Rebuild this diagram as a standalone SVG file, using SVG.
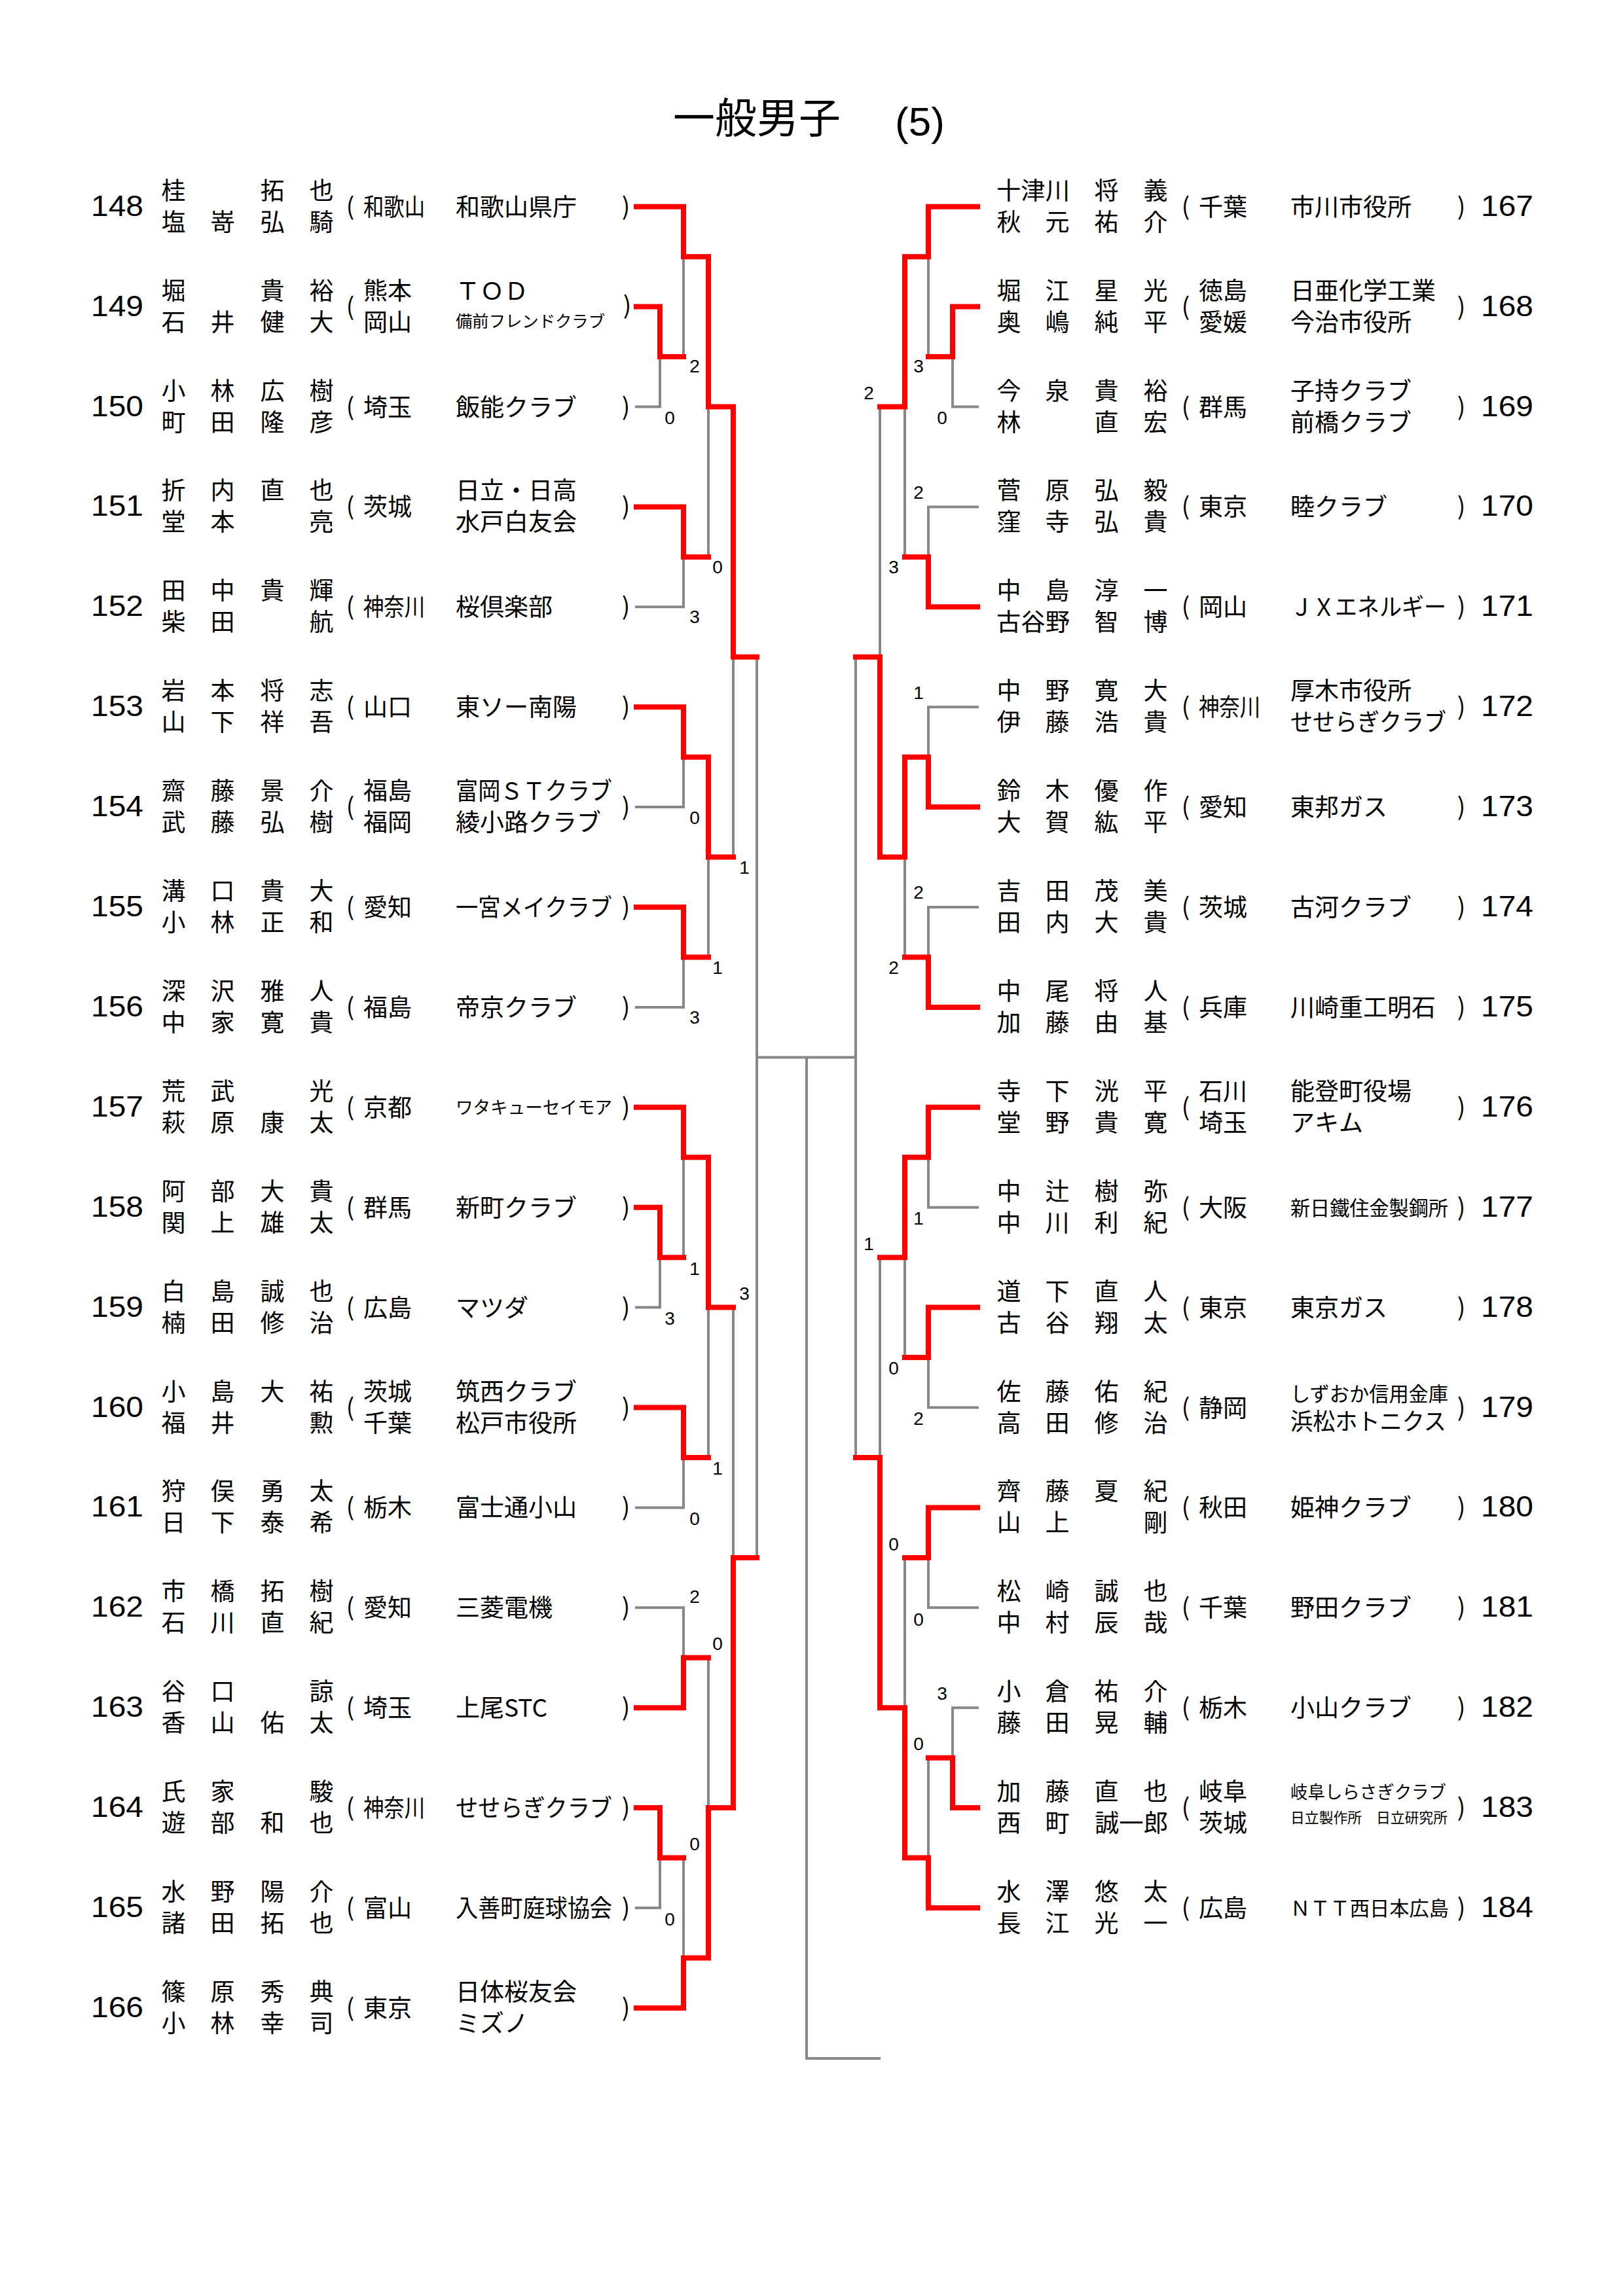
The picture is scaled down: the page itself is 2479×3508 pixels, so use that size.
<svg xmlns="http://www.w3.org/2000/svg" width="2479" height="3508" viewBox="0 0 2479 3508">
<style>
text{font-family:"Noto Sans CJK JP","Noto Sans",sans-serif;fill:#000}
.nm{font-size:37px;text-anchor:middle}
.tx{font-size:37px}
.pr{font-size:37px;text-anchor:middle}
.num{font-family:"Liberation Sans",Arial,sans-serif;font-size:44px}
.sc{font-family:"Liberation Sans",Arial,sans-serif;font-size:28px;text-anchor:middle}
.s25{font-size:25px}
.s27{font-size:27px}
.s31{font-size:31px}
.s22{font-size:22px}
.s36{font-size:36px}
.g{fill:none;stroke:#878787;stroke-width:4;stroke-linecap:square}
.r{fill:none;stroke:#ff0000;stroke-width:8;stroke-linecap:square;stroke-linejoin:miter}
.title{font-size:64px}
.title2{font-family:"Liberation Sans",Arial,sans-serif;font-size:62px}
</style>
<rect width="2479" height="3508" fill="#fff"/>
<g id="title">
<text class="title" x="1028" y="203">一般男子</text>
<text class="title2" x="1367" y="207">(5)</text>
</g>
<g id="connectors">
<path class="g" d="M972 621.5H1008V545.1M1044 392.2V545.1M972 927.3H1044V850.9M1082 621.5V850.9M972 1233.1H1044V1156.7M972 1538.9H1044V1462.5M1082 1309.6V1462.5M1120 1003.8V1309.6M972 1997.6H1008V1921.2M1044 1768.3V1921.2M972 2303.4H1044V2227M1082 1997.6V2227M972 2456.3H1044V2532.8M972 2915H1008V2838.6M1044 2838.6V2991.5M1082 2532.8V2762.1M1120 1997.6V2379.9M1156 1003.8V2379.9"/>
<path class="g" d="M1156 1615.4H1307M1232 1615.4V3145H1343"/>
<path class="g" d="M1493 621.5H1455V545.1M1418 392.2V545.1M1493 774.4H1418V850.9M1382 621.5V850.9M1344 621.5V1003.8M1493 1080.2H1418V1156.7M1493 1386H1418V1462.5M1382 1309.6V1462.5M1493 1844.7H1418V1768.3M1493 2150.5H1418V2074.1M1382 1921.2V2074.1M1344 1921.2V2227M1493 2456.3H1418V2379.9M1493 2609.2H1455V2685.7M1418 2685.7V2838.6M1382 2379.9V2609.2M1307 1003.8V2227"/>
<path class="r" d="M972 315.7H1044V392.2H1082V621.5H1120V1003.8H1156"/>
<path class="r" d="M972 468.6H1008V545.1H1044"/>
<path class="r" d="M972 774.4H1044V850.9H1082"/>
<path class="r" d="M972 1080.2H1044V1156.7H1082V1309.6H1120"/>
<path class="r" d="M972 1386H1044V1462.5H1082"/>
<path class="r" d="M972 1691.8H1044V1768.3H1082V1997.6H1120"/>
<path class="r" d="M972 1844.7H1008V1921.2H1044"/>
<path class="r" d="M972 2150.5H1044V2227H1082"/>
<path class="r" d="M972 2609.2H1044V2532.8H1082"/>
<path class="r" d="M972 2762.1H1008V2838.6H1044"/>
<path class="r" d="M972 3067.9H1044V2991.5H1082V2762.1H1120V2379.9H1156"/>
<path class="r" d="M1493 315.7H1418V392.2H1382V621.5H1344"/>
<path class="r" d="M1493 468.6H1455V545.1H1418"/>
<path class="r" d="M1493 927.3H1418V850.9H1382"/>
<path class="r" d="M1493 1233.1H1418V1156.7H1382V1309.6H1344V1003.8H1307"/>
<path class="r" d="M1493 1538.9H1418V1462.5H1382"/>
<path class="r" d="M1493 1691.8H1418V1768.3H1382V1921.2H1344"/>
<path class="r" d="M1493 1997.6H1418V2074.1H1382"/>
<path class="r" d="M1493 2303.4H1418V2379.9H1382"/>
<path class="r" d="M1493 2762.1H1455V2685.7H1418"/>
<path class="r" d="M1493 2915H1418V2838.6H1382V2609.2H1344V2227H1307"/>
</g>
<g id="scores">
<text class="sc" x="1061" y="569">2</text>
<text class="sc" x="1023" y="648">0</text>
<text class="sc" x="1096" y="876">0</text>
<text class="sc" x="1061" y="952">3</text>
<text class="sc" x="1061" y="1259">0</text>
<text class="sc" x="1137" y="1335">1</text>
<text class="sc" x="1096" y="1488">1</text>
<text class="sc" x="1061" y="1564">3</text>
<text class="sc" x="1061" y="1948">1</text>
<text class="sc" x="1137" y="1986">3</text>
<text class="sc" x="1023" y="2024">3</text>
<text class="sc" x="1096" y="2253">1</text>
<text class="sc" x="1061" y="2330">0</text>
<text class="sc" x="1061" y="2449">2</text>
<text class="sc" x="1096" y="2521">0</text>
<text class="sc" x="1061" y="2827">0</text>
<text class="sc" x="1023" y="2942">0</text>
<text class="sc" x="1327" y="610">2</text>
<text class="sc" x="1403" y="569">3</text>
<text class="sc" x="1439" y="648">0</text>
<text class="sc" x="1403" y="762">2</text>
<text class="sc" x="1365" y="876">3</text>
<text class="sc" x="1403" y="1068">1</text>
<text class="sc" x="1403" y="1373">2</text>
<text class="sc" x="1365" y="1488">2</text>
<text class="sc" x="1403" y="1871">1</text>
<text class="sc" x="1327" y="1910">1</text>
<text class="sc" x="1365" y="2100">0</text>
<text class="sc" x="1403" y="2177">2</text>
<text class="sc" x="1365" y="2369">0</text>
<text class="sc" x="1403" y="2484">0</text>
<text class="sc" x="1439" y="2597">3</text>
<text class="sc" x="1403" y="2674">0</text>
</g>
<g id="e148" transform="translate(0,315.7)"><text class="num" x="139" y="14" textLength="80" lengthAdjust="spacingAndGlyphs">148</text><text class="nm" x="265 416 491" y="-11">桂拓也</text><text class="nm" x="265 340 416 491" y="37">塩嵜弘騎</text><text class="pr" x="535" y="13">(</text><text class="tx" x="555" y="14" textLength="94" lengthAdjust="spacingAndGlyphs">和歌山</text><text class="tx" x="696" y="14">和歌山県庁</text><text class="pr" x="956" y="13">)</text></g>
<g id="e149" transform="translate(0,468.6)"><text class="num" x="139" y="14" textLength="80" lengthAdjust="spacingAndGlyphs">149</text><text class="nm" x="265 416 491" y="-11">堀貴裕</text><text class="nm" x="265 340 416 491" y="37">石井健大</text><text class="pr" x="535" y="13">(</text><text class="tx" x="555" y="-11">熊本</text><text class="tx" x="555" y="37">岡山</text><text class="tx" x="696" y="-11">ＴＯＤ</text><text class="tx s25" x="696" y="31" textLength="228" lengthAdjust="spacingAndGlyphs">備前フレンドクラブ</text><text class="pr" x="958" y="11">)</text></g>
<g id="e150" transform="translate(0,621.5)"><text class="num" x="139" y="14" textLength="80" lengthAdjust="spacingAndGlyphs">150</text><text class="nm" x="265 340 416 491" y="-11">小林広樹</text><text class="nm" x="265 340 416 491" y="37">町田隆彦</text><text class="pr" x="535" y="13">(</text><text class="tx" x="555" y="14">埼玉</text><text class="tx" x="696" y="14">飯能クラブ</text><text class="pr" x="956" y="13">)</text></g>
<g id="e151" transform="translate(0,774.4)"><text class="num" x="139" y="14" textLength="80" lengthAdjust="spacingAndGlyphs">151</text><text class="nm" x="265 340 416 491" y="-11">折内直也</text><text class="nm" x="265 340 491" y="37">堂本亮</text><text class="pr" x="535" y="13">(</text><text class="tx" x="555" y="14">茨城</text><text class="tx" x="696" y="-11">日立・日高</text><text class="tx" x="696" y="37">水戸白友会</text><text class="pr" x="956" y="13">)</text></g>
<g id="e152" transform="translate(0,927.3)"><text class="num" x="139" y="14" textLength="80" lengthAdjust="spacingAndGlyphs">152</text><text class="nm" x="265 340 416 491" y="-11">田中貴輝</text><text class="nm" x="265 340 491" y="37">柴田航</text><text class="pr" x="535" y="13">(</text><text class="tx" x="555" y="14" textLength="94" lengthAdjust="spacingAndGlyphs">神奈川</text><text class="tx" x="696" y="14">桜倶楽部</text><text class="pr" x="956" y="13">)</text></g>
<g id="e153" transform="translate(0,1080.2)"><text class="num" x="139" y="14" textLength="80" lengthAdjust="spacingAndGlyphs">153</text><text class="nm" x="265 340 416 491" y="-11">岩本将志</text><text class="nm" x="265 340 416 491" y="37">山下祥吾</text><text class="pr" x="535" y="13">(</text><text class="tx" x="555" y="14">山口</text><text class="tx" x="696" y="14">東ソー南陽</text><text class="pr" x="956" y="13">)</text></g>
<g id="e154" transform="translate(0,1233.1)"><text class="num" x="139" y="14" textLength="80" lengthAdjust="spacingAndGlyphs">154</text><text class="nm" x="265 340 416 491" y="-11">齋藤景介</text><text class="nm" x="265 340 416 491" y="37">武藤弘樹</text><text class="pr" x="535" y="13">(</text><text class="tx" x="555" y="-11">福島</text><text class="tx" x="555" y="37">福岡</text><text class="tx" x="696" y="-11" textLength="239" lengthAdjust="spacingAndGlyphs">富岡ＳＴクラブ</text><text class="tx" x="696" y="37">綾小路クラブ</text><text class="pr" x="956" y="13">)</text></g>
<g id="e155" transform="translate(0,1386)"><text class="num" x="139" y="14" textLength="80" lengthAdjust="spacingAndGlyphs">155</text><text class="nm" x="265 340 416 491" y="-11">溝口貴大</text><text class="nm" x="265 340 416 491" y="37">小林正和</text><text class="pr" x="535" y="13">(</text><text class="tx" x="555" y="14">愛知</text><text class="tx" x="696" y="14" textLength="239" lengthAdjust="spacingAndGlyphs">一宮メイクラブ</text><text class="pr" x="956" y="13">)</text></g>
<g id="e156" transform="translate(0,1538.9)"><text class="num" x="139" y="14" textLength="80" lengthAdjust="spacingAndGlyphs">156</text><text class="nm" x="265 340 416 491" y="-11">深沢雅人</text><text class="nm" x="265 340 416 491" y="37">中家寛貴</text><text class="pr" x="535" y="13">(</text><text class="tx" x="555" y="14">福島</text><text class="tx" x="696" y="14">帝京クラブ</text><text class="pr" x="956" y="13">)</text></g>
<g id="e157" transform="translate(0,1691.8)"><text class="num" x="139" y="14" textLength="80" lengthAdjust="spacingAndGlyphs">157</text><text class="nm" x="265 340 491" y="-11">荒武光</text><text class="nm" x="265 340 416 491" y="37">萩原康太</text><text class="pr" x="535" y="13">(</text><text class="tx" x="555" y="14">京都</text><text class="tx s27" x="696" y="10" textLength="239" lengthAdjust="spacingAndGlyphs">ワタキューセイモア</text><text class="pr" x="956" y="13">)</text></g>
<g id="e158" transform="translate(0,1844.7)"><text class="num" x="139" y="14" textLength="80" lengthAdjust="spacingAndGlyphs">158</text><text class="nm" x="265 340 416 491" y="-11">阿部大貴</text><text class="nm" x="265 340 416 491" y="37">関上雄太</text><text class="pr" x="535" y="13">(</text><text class="tx" x="555" y="14">群馬</text><text class="tx" x="696" y="14">新町クラブ</text><text class="pr" x="956" y="13">)</text></g>
<g id="e159" transform="translate(0,1997.6)"><text class="num" x="139" y="14" textLength="80" lengthAdjust="spacingAndGlyphs">159</text><text class="nm" x="265 340 416 491" y="-11">白島誠也</text><text class="nm" x="265 340 416 491" y="37">楠田修治</text><text class="pr" x="535" y="13">(</text><text class="tx" x="555" y="14">広島</text><text class="tx" x="696" y="14">マツダ</text><text class="pr" x="956" y="13">)</text></g>
<g id="e160" transform="translate(0,2150.5)"><text class="num" x="139" y="14" textLength="80" lengthAdjust="spacingAndGlyphs">160</text><text class="nm" x="265 340 416 491" y="-11">小島大祐</text><text class="nm" x="265 340 491" y="37">福井勲</text><text class="pr" x="535" y="13">(</text><text class="tx" x="555" y="-11">茨城</text><text class="tx" x="555" y="37">千葉</text><text class="tx" x="696" y="-11">筑西クラブ</text><text class="tx" x="696" y="37">松戸市役所</text><text class="pr" x="956" y="13">)</text></g>
<g id="e161" transform="translate(0,2303.4)"><text class="num" x="139" y="14" textLength="80" lengthAdjust="spacingAndGlyphs">161</text><text class="nm" x="265 340 416 491" y="-11">狩俣勇太</text><text class="nm" x="265 340 416 491" y="37">日下泰希</text><text class="pr" x="535" y="13">(</text><text class="tx" x="555" y="14">栃木</text><text class="tx" x="696" y="14">富士通小山</text><text class="pr" x="956" y="13">)</text></g>
<g id="e162" transform="translate(0,2456.3)"><text class="num" x="139" y="14" textLength="80" lengthAdjust="spacingAndGlyphs">162</text><text class="nm" x="265 340 416 491" y="-11">市橋拓樹</text><text class="nm" x="265 340 416 491" y="37">石川直紀</text><text class="pr" x="535" y="13">(</text><text class="tx" x="555" y="14">愛知</text><text class="tx" x="696" y="14">三菱電機</text><text class="pr" x="956" y="13">)</text></g>
<g id="e163" transform="translate(0,2609.2)"><text class="num" x="139" y="14" textLength="80" lengthAdjust="spacingAndGlyphs">163</text><text class="nm" x="265 340 491" y="-11">谷口諒</text><text class="nm" x="265 340 416 491" y="37">香山佑太</text><text class="pr" x="535" y="13">(</text><text class="tx" x="555" y="14">埼玉</text><text class="tx" x="696" y="14">上尾STC</text><text class="pr" x="956" y="13">)</text></g>
<g id="e164" transform="translate(0,2762.1)"><text class="num" x="139" y="14" textLength="80" lengthAdjust="spacingAndGlyphs">164</text><text class="nm" x="265 340 491" y="-11">氏家駿</text><text class="nm" x="265 340 416 491" y="37">遊部和也</text><text class="pr" x="535" y="13">(</text><text class="tx" x="555" y="14" textLength="94" lengthAdjust="spacingAndGlyphs">神奈川</text><text class="tx" x="696" y="14" textLength="239" lengthAdjust="spacingAndGlyphs">せせらぎクラブ</text><text class="pr" x="956" y="13">)</text></g>
<g id="e165" transform="translate(0,2915)"><text class="num" x="139" y="14" textLength="80" lengthAdjust="spacingAndGlyphs">165</text><text class="nm" x="265 340 416 491" y="-11">水野陽介</text><text class="nm" x="265 340 416 491" y="37">諸田拓也</text><text class="pr" x="535" y="13">(</text><text class="tx" x="555" y="14">富山</text><text class="tx" x="696" y="14" textLength="239" lengthAdjust="spacingAndGlyphs">入善町庭球協会</text><text class="pr" x="956" y="13">)</text></g>
<g id="e166" transform="translate(0,3067.9)"><text class="num" x="139" y="14" textLength="80" lengthAdjust="spacingAndGlyphs">166</text><text class="nm" x="265 340 416 491" y="-11">篠原秀典</text><text class="nm" x="265 340 416 491" y="37">小林幸司</text><text class="pr" x="535" y="13">(</text><text class="tx" x="555" y="14">東京</text><text class="tx" x="696" y="-11">日体桜友会</text><text class="tx" x="696" y="37">ミズノ</text><text class="pr" x="956" y="13">)</text></g>
<g id="e167" transform="translate(0,315.7)"><text class="tx" x="1522" y="-11" textLength="112" lengthAdjust="spacingAndGlyphs">十津川</text><text class="nm" x="1690 1765" y="-11">将義</text><text class="nm" x="1541 1615 1690 1765" y="37">秋元祐介</text><text class="pr" x="1811" y="13">(</text><text class="tx" x="1831" y="14">千葉</text><text class="tx" x="1971" y="14">市川市役所</text><text class="pr" x="2232" y="13">)</text><text class="num" x="2262" y="14" textLength="80" lengthAdjust="spacingAndGlyphs">167</text></g>
<g id="e168" transform="translate(0,468.6)"><text class="nm" x="1541 1615 1690 1765" y="-11">堀江星光</text><text class="nm" x="1541 1615 1690 1765" y="37">奥嶋純平</text><text class="pr" x="1811" y="13">(</text><text class="tx" x="1831" y="-11">徳島</text><text class="tx" x="1831" y="37">愛媛</text><text class="tx" x="1971" y="-11">日亜化学工業</text><text class="tx" x="1971" y="37">今治市役所</text><text class="pr" x="2232" y="13">)</text><text class="num" x="2262" y="14" textLength="80" lengthAdjust="spacingAndGlyphs">168</text></g>
<g id="e169" transform="translate(0,621.5)"><text class="nm" x="1541 1615 1690 1765" y="-11">今泉貴裕</text><text class="nm" x="1541 1690 1765" y="37">林直宏</text><text class="pr" x="1811" y="13">(</text><text class="tx" x="1831" y="14">群馬</text><text class="tx" x="1971" y="-11">子持クラブ</text><text class="tx" x="1971" y="37">前橋クラブ</text><text class="pr" x="2232" y="13">)</text><text class="num" x="2262" y="14" textLength="80" lengthAdjust="spacingAndGlyphs">169</text></g>
<g id="e170" transform="translate(0,774.4)"><text class="nm" x="1541 1615 1690 1765" y="-11">菅原弘毅</text><text class="nm" x="1541 1615 1690 1765" y="37">窪寺弘貴</text><text class="pr" x="1811" y="13">(</text><text class="tx" x="1831" y="14">東京</text><text class="tx" x="1971" y="14">睦クラブ</text><text class="pr" x="2232" y="13">)</text><text class="num" x="2262" y="14" textLength="80" lengthAdjust="spacingAndGlyphs">170</text></g>
<g id="e171" transform="translate(0,927.3)"><text class="nm" x="1541 1615 1690 1765" y="-11">中島淳一</text><text class="tx" x="1522" y="37" textLength="112" lengthAdjust="spacingAndGlyphs">古谷野</text><text class="nm" x="1690 1765" y="37">智博</text><text class="pr" x="1811" y="13">(</text><text class="tx" x="1831" y="14">岡山</text><text class="tx" x="1971" y="14" textLength="238" lengthAdjust="spacingAndGlyphs">ＪＸエネルギー</text><text class="pr" x="2232" y="13">)</text><text class="num" x="2262" y="14" textLength="80" lengthAdjust="spacingAndGlyphs">171</text></g>
<g id="e172" transform="translate(0,1080.2)"><text class="nm" x="1541 1615 1690 1765" y="-11">中野寛大</text><text class="nm" x="1541 1615 1690 1765" y="37">伊藤浩貴</text><text class="pr" x="1811" y="13">(</text><text class="tx" x="1831" y="14" textLength="94" lengthAdjust="spacingAndGlyphs">神奈川</text><text class="tx" x="1971" y="-11">厚木市役所</text><text class="tx" x="1971" y="37" textLength="238" lengthAdjust="spacingAndGlyphs">せせらぎクラブ</text><text class="pr" x="2232" y="13">)</text><text class="num" x="2262" y="14" textLength="80" lengthAdjust="spacingAndGlyphs">172</text></g>
<g id="e173" transform="translate(0,1233.1)"><text class="nm" x="1541 1615 1690 1765" y="-11">鈴木優作</text><text class="nm" x="1541 1615 1690 1765" y="37">大賀紘平</text><text class="pr" x="1811" y="13">(</text><text class="tx" x="1831" y="14">愛知</text><text class="tx" x="1971" y="14">東邦ガス</text><text class="pr" x="2232" y="13">)</text><text class="num" x="2262" y="14" textLength="80" lengthAdjust="spacingAndGlyphs">173</text></g>
<g id="e174" transform="translate(0,1386)"><text class="nm" x="1541 1615 1690 1765" y="-11">吉田茂美</text><text class="nm" x="1541 1615 1690 1765" y="37">田内大貴</text><text class="pr" x="1811" y="13">(</text><text class="tx" x="1831" y="14">茨城</text><text class="tx" x="1971" y="14">古河クラブ</text><text class="pr" x="2232" y="13">)</text><text class="num" x="2262" y="14" textLength="80" lengthAdjust="spacingAndGlyphs">174</text></g>
<g id="e175" transform="translate(0,1538.9)"><text class="nm" x="1541 1615 1690 1765" y="-11">中尾将人</text><text class="nm" x="1541 1615 1690 1765" y="37">加藤由基</text><text class="pr" x="1811" y="13">(</text><text class="tx" x="1831" y="14">兵庫</text><text class="tx" x="1971" y="14">川崎重工明石</text><text class="pr" x="2232" y="13">)</text><text class="num" x="2262" y="14" textLength="80" lengthAdjust="spacingAndGlyphs">175</text></g>
<g id="e176" transform="translate(0,1691.8)"><text class="nm" x="1541 1615 1690 1765" y="-11">寺下洸平</text><text class="nm" x="1541 1615 1690 1765" y="37">堂野貴寛</text><text class="pr" x="1811" y="13">(</text><text class="tx" x="1831" y="-11">石川</text><text class="tx" x="1831" y="37">埼玉</text><text class="tx" x="1971" y="-11">能登町役場</text><text class="tx" x="1971" y="37">アキム</text><text class="pr" x="2232" y="13">)</text><text class="num" x="2262" y="14" textLength="80" lengthAdjust="spacingAndGlyphs">176</text></g>
<g id="e177" transform="translate(0,1844.7)"><text class="nm" x="1541 1615 1690 1765" y="-11">中辻樹弥</text><text class="nm" x="1541 1615 1690 1765" y="37">中川利紀</text><text class="pr" x="1811" y="13">(</text><text class="tx" x="1831" y="14">大阪</text><text class="tx s31" x="1971" y="12" textLength="241" lengthAdjust="spacingAndGlyphs">新日鐵住金製鋼所</text><text class="pr" x="2232" y="13">)</text><text class="num" x="2262" y="14" textLength="80" lengthAdjust="spacingAndGlyphs">177</text></g>
<g id="e178" transform="translate(0,1997.6)"><text class="nm" x="1541 1615 1690 1765" y="-11">道下直人</text><text class="nm" x="1541 1615 1690 1765" y="37">古谷翔太</text><text class="pr" x="1811" y="13">(</text><text class="tx" x="1831" y="14">東京</text><text class="tx" x="1971" y="14">東京ガス</text><text class="pr" x="2232" y="13">)</text><text class="num" x="2262" y="14" textLength="80" lengthAdjust="spacingAndGlyphs">178</text></g>
<g id="e179" transform="translate(0,2150.5)"><text class="nm" x="1541 1615 1690 1765" y="-11">佐藤佑紀</text><text class="nm" x="1541 1615 1690 1765" y="37">高田修治</text><text class="pr" x="1811" y="13">(</text><text class="tx" x="1831" y="14">静岡</text><text class="tx s31" x="1971" y="-10" textLength="241" lengthAdjust="spacingAndGlyphs">しずおか信用金庫</text><text class="tx s36" x="1971" y="34" textLength="238" lengthAdjust="spacingAndGlyphs">浜松ホトニクス</text><text class="pr" x="2232" y="13">)</text><text class="num" x="2262" y="14" textLength="80" lengthAdjust="spacingAndGlyphs">179</text></g>
<g id="e180" transform="translate(0,2303.4)"><text class="nm" x="1541 1615 1690 1765" y="-11">齊藤夏紀</text><text class="nm" x="1541 1615 1765" y="37">山上剛</text><text class="pr" x="1811" y="13">(</text><text class="tx" x="1831" y="14">秋田</text><text class="tx" x="1971" y="14">姫神クラブ</text><text class="pr" x="2232" y="13">)</text><text class="num" x="2262" y="14" textLength="80" lengthAdjust="spacingAndGlyphs">180</text></g>
<g id="e181" transform="translate(0,2456.3)"><text class="nm" x="1541 1615 1690 1765" y="-11">松崎誠也</text><text class="nm" x="1541 1615 1690 1765" y="37">中村辰哉</text><text class="pr" x="1811" y="13">(</text><text class="tx" x="1831" y="14">千葉</text><text class="tx" x="1971" y="14">野田クラブ</text><text class="pr" x="2232" y="13">)</text><text class="num" x="2262" y="14" textLength="80" lengthAdjust="spacingAndGlyphs">181</text></g>
<g id="e182" transform="translate(0,2609.2)"><text class="nm" x="1541 1615 1690 1765" y="-11">小倉祐介</text><text class="nm" x="1541 1615 1690 1765" y="37">藤田晃輔</text><text class="pr" x="1811" y="13">(</text><text class="tx" x="1831" y="14">栃木</text><text class="tx" x="1971" y="14">小山クラブ</text><text class="pr" x="2232" y="13">)</text><text class="num" x="2262" y="14" textLength="80" lengthAdjust="spacingAndGlyphs">182</text></g>
<g id="e183" transform="translate(0,2762.1)"><text class="nm" x="1541 1615 1690 1765" y="-11">加藤直也</text><text class="nm" x="1541 1615" y="37">西町</text><text class="tx" x="1672" y="37" textLength="112" lengthAdjust="spacingAndGlyphs">誠一郎</text><text class="pr" x="1811" y="13">(</text><text class="tx" x="1831" y="-11">岐阜</text><text class="tx" x="1831" y="37">茨城</text><text class="tx s27" x="1971" y="-14" textLength="238" lengthAdjust="spacingAndGlyphs">岐阜しらさぎクラブ</text><text class="tx s22" x="1971" y="23" textLength="240" lengthAdjust="spacingAndGlyphs">日立製作所　日立研究所</text><text class="pr" x="2232" y="13">)</text><text class="num" x="2262" y="14" textLength="80" lengthAdjust="spacingAndGlyphs">183</text></g>
<g id="e184" transform="translate(0,2915)"><text class="nm" x="1541 1615 1690 1765" y="-11">水澤悠太</text><text class="nm" x="1541 1615 1690 1765" y="37">長江光一</text><text class="pr" x="1811" y="13">(</text><text class="tx" x="1831" y="14">広島</text><text class="tx s31" x="1971" y="12" textLength="242" lengthAdjust="spacingAndGlyphs">ＮＴＴ西日本広島</text><text class="pr" x="2232" y="13">)</text><text class="num" x="2262" y="14" textLength="80" lengthAdjust="spacingAndGlyphs">184</text></g>
</svg>
